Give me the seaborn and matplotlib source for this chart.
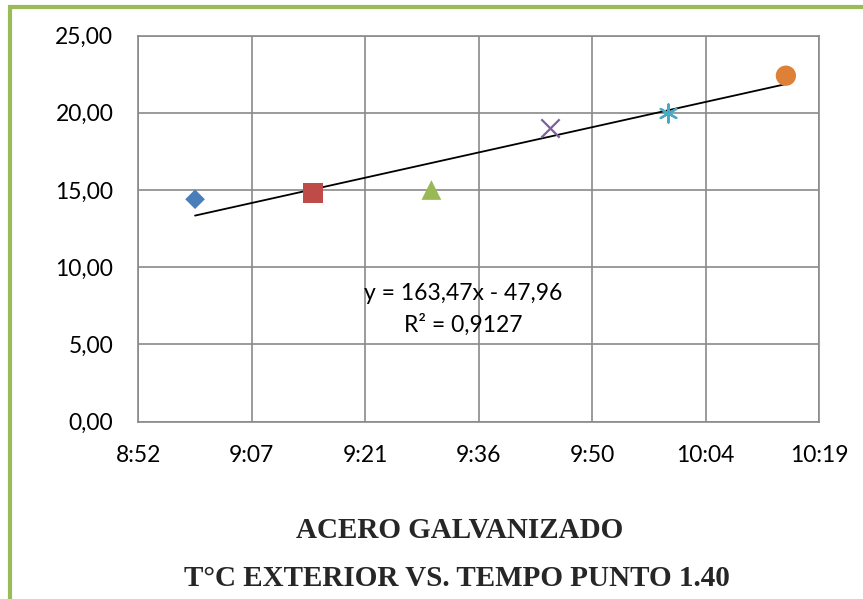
import matplotlib
matplotlib.use("Agg")
import matplotlib.pyplot as plt
from matplotlib.lines import Line2D
import seaborn as sns
import pandas as pd

# ---- data ----
times = ["9:00", "9:15", "9:30", "9:45", "10:00", "10:15"]
temps = [14.4, 14.8, 15.0, 19.0, 20.0, 22.4]
markers = ["D", "s", "^", "x", (6, 2, 0), "o"]
colors = ["#4A7EBB", "#BE4B48", "#98B954", "#7D60A0", "#46AAC5", "#DD8139"]
x_ticks = [0.37, 0.38, 0.39, 0.40, 0.41, 0.42, 0.43]
x_tick_labels = ["8:52", "9:07", "9:21", "9:36", "9:50", "10:04", "10:19"]
y_ticks = [0, 5, 10, 15, 20, 25]
y_tick_labels = ["0,00", "5,00", "10,00", "15,00", "20,00", "25,00"]
equation_lines = ["y = 163,47x - 47,96", "R² = 0,9127"]
title_lines = ["ACERO GALVANIZADO", "T°C EXTERIOR VS. TEMPO PUNTO 1.40"]


def to_day_fraction(t):
    h, m = t.split(":")
    return (int(h) * 60 + int(m)) / 1440.0


df = pd.DataFrame({"x": [to_day_fraction(t) for t in times], "y": temps})

sns.set_style("white")
plt.rcParams["font.family"] = ["Lato", "DejaVu Sans"]

fig = plt.figure(figsize=(8.63, 5.99), dpi=100)
ax = fig.add_axes([0.1603, 0.296, 0.949 - 0.1603, 0.9407 - 0.296])

grid_c = "#8A8A8A"

# trendline
sns.regplot(data=df, x="x", y="y", scatter=False, ci=None, truncate=True,
            line_kws=dict(color="black", lw=1.3, zorder=3), ax=ax)

# points
size_map = {"D": 10.0, "s": 14.2, "^": 14.2, "x": 13.2, "o": 14.6}
for i, row in df.iterrows():
    mk = markers[i]
    key = mk if isinstance(mk, str) else "ast"
    ms = size_map.get(key, 13.0)
    line_art = key in ("x", "ast")
    sns.scatterplot(x=[row["x"]], y=[row["y"]], ax=ax, marker=mk,
                    s=ms ** 2, color=colors[i],
                    edgecolor=colors[i] if line_art else "none",
                    linewidth=1.6 if line_art else 0, zorder=4)

ax.set_xlim(0.37, 0.43)
ax.set_ylim(0, 25)
ax.set_xticks(x_ticks)
ax.set_xticklabels(x_tick_labels)
ax.set_yticks(y_ticks)
ax.set_yticklabels(y_tick_labels)
ax.tick_params(axis="both", length=0, labelsize=16.5, colors="black")
ax.tick_params(axis="x", pad=17)
ax.tick_params(axis="y", pad=18)
ax.set_xlabel("")
ax.set_ylabel("")
ax.grid(True, color=grid_c, lw=1.2)
ax.set_axisbelow(True)
for sp in ax.spines.values():
    sp.set_visible(True)
    sp.set_color(grid_c)
    sp.set_linewidth(1.2)

# equation text (two lines)
ax.text(0.3986, 8.33, equation_lines[0], ha="center", va="center",
        fontsize=16.5, color="black")
ax.text(0.3986, 6.26, equation_lines[1], ha="center", va="center",
        fontsize=16.5, color="black")

# titles
fig.text(460 / 863, 1 - 530 / 599, title_lines[0], ha="center", va="center",
         fontsize=21, fontweight="bold", family="Liberation Serif")
fig.text(457 / 863, 1 - 578 / 599, title_lines[1], ha="center", va="center",
         fontsize=21, fontweight="bold", family="Liberation Serif")

# green border (left and top)
green = "#9BBB59"
fig.add_artist(Line2D([9.5 / 863, 9.5 / 863], [0, 1 - 5 / 599],
                      transform=fig.transFigure, color=green, lw=3.0,
                      solid_capstyle="butt"))
fig.add_artist(Line2D([7.5 / 863, 1], [1 - 7 / 599, 1 - 7 / 599],
                      transform=fig.transFigure, color=green, lw=3.0,
                      solid_capstyle="butt"))

fig.savefig("out.png", dpi=100)
